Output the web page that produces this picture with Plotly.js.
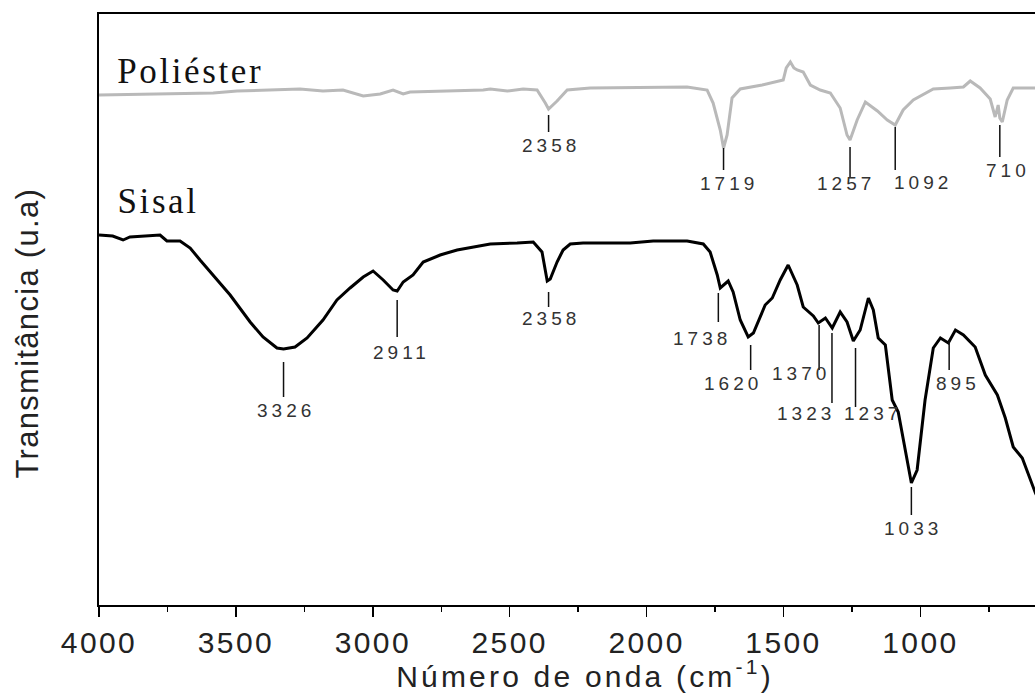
<!DOCTYPE html>
<html>
<head>
<meta charset="utf-8">
<script src="https://cdn.plot.ly/plotly-3.0.1.min.js"></script>
<style>
html, body { margin: 0; padding: 0; overflow: hidden; background: #fff; }
#chart { width: 1071px; height: 693px; }
.xtick text { letter-spacing: 2.4px; }
.g-xtitle text { letter-spacing: 3.2px; }
.annotation text { letter-spacing: 4px; }
.annotation[data-index="0"] text, .annotation[data-index="1"] text { letter-spacing: 2.6px; }
.annotation[data-index="2"] text { letter-spacing: 1.3px; }
</style>
</head>
<body>
<div id="chart"></div>
<script>
// ---- Data (transmittance in arbitrary units) ----
const wnSisal = [4000,3950,3912,3887,3777,3752,3704,3667,3631,3569,3521,3448,3401,3350,3326,3284,3240,3182,3131,3083,3035,2999,2962,2926,2911,2889,2853,2816,2754,2692,2634,2571,2473,2414,2382,2363,2352,2327,2305,2279,2232,2060,1976,1852,1793,1768,1742,1731,1702,1684,1658,1629,1610,1567,1541,1512,1483,1450,1428,1391,1373,1347,1322,1293,1268,1245,1220,1190,1172,1154,1128,1103,1081,1055,1033,1012,983,953,927,898,872,843,800,763,719,690,661,628,580,540];
const tSisal  = [370,369,365,368,370,364,364,357,345,325,310,283,268,257,256,258,267,285,305,317,328,334,325,315,314,323,330,343,350,355,358,361,362,363,353,324,326,343,355,361,362,362,364,364,361,353,330,317,324,313,285,268,272,300,307,325,340,320,298,289,282,287,277,293,283,264,275,307,295,267,260,205,193,155,122,135,205,257,267,262,275,270,258,230,210,187,158,147,112,90];

const wnPol = [4000,3583,3496,3266,3182,3109,3035,2973,2926,2889,2864,2597,2571,2509,2451,2400,2370,2358,2327,2290,2206,1852,1779,1757,1731,1719,1706,1688,1658,1578,1501,1490,1475,1462,1450,1428,1402,1366,1329,1293,1268,1257,1231,1201,1157,1121,1092,1063,1026,1000,953,891,843,818,782,745,727,716,710,701,683,661,610,540];
const tPol  = [510,512,514,516,514,515,509,511,515,511,513,515,516,514,516,515,502,496,504,515,517,518,515,502,475,457,470,507,516,520,525,537,543,537,535,533,520,515,512,497,470,465,485,503,494,485,480,495,505,509,516,517,518,524,517,506,488,500,487,483,505,517,517,517];

const peaksSisal = [3326,2911,2358,1738,1620,1370,1323,1237,1033,895];
const peaksPol   = [2358,1719,1257,1092,710];

const xTickVals = [4000,3500,3000,2500,2000,1500,1000];
const xTickText = ['4000','3500','3000','2500','2000','1500','1000'];

const seriesNames = ['Poliéster','Sisal'];

// ---- Label layout (line top, line bottom, label centre, horizontal shift px) ----
const sisalMarkLayout = [
  [243,208,195,0],[305,268,253,2],[313,298,287,0],[312,283,267,-18],[260,235,222,-20],
  [280,235,232,-20],[272,202,192,-28],[257,198,192,15],[118,90,77,0],[265,235,222,7]
];
const polMarkLayout = [
  [490,473,460,0],[457,435,422,3],[458,428,422,-6],[478,435,423,26],[480,448,435,6]
];

const traces = [
  {x: wnPol, y: tPol, type: 'scatter', mode: 'lines', name: seriesNames[0],
   line: {color: '#b9b9b9', width: 3}, hoverinfo: 'skip'},
  {x: wnSisal, y: tSisal, type: 'scatter', mode: 'lines', name: seriesNames[1],
   line: {color: '#000000', width: 3}, hoverinfo: 'skip'}
];

const shapes = [];
const annotations = [
  {xref: 'x', yref: 'y', x: 4000, y: 534, xshift: 28, xanchor: 'left', yanchor: 'middle',
   text: seriesNames[0], showarrow: false,
   font: {family: 'Liberation Serif, Times New Roman, serif', size: 35, color: '#111'}},
  {xref: 'x', yref: 'y', x: 4000, y: 404, xshift: 23, xanchor: 'left', yanchor: 'middle',
   text: seriesNames[1], showarrow: false,
   font: {family: 'Liberation Serif, Times New Roman, serif', size: 35, color: '#111'}},
  {xref: 'paper', yref: 'paper', x: 0, y: 0.46, xshift: -72, xanchor: 'center', yanchor: 'middle',
   text: 'Transmitância (u.a)', textangle: -90, showarrow: false,
   font: {family: 'Liberation Sans, Arial, sans-serif', size: 31, color: '#222'}}
];

function addMarks(peaks, lay) {
  peaks.forEach((wn, i) => {
    const [top, bot, lab, dx] = lay[i];
    shapes.push({type: 'line', xref: 'x', yref: 'y', x0: wn, x1: wn, y0: top, y1: bot,
      line: {color: '#111', width: 1.5}});
    annotations.push({xref: 'x', yref: 'y', x: wn, y: lab, xshift: dx + 2, xanchor: 'center',
      yanchor: 'middle', text: String(wn), showarrow: false,
      font: {family: 'Liberation Sans, Arial, sans-serif', size: 19, color: '#333'}});
  });
}
addMarks(peaksSisal, sisalMarkLayout);
addMarks(peaksPol, polMarkLayout);

const layout = {
  width: 1071, height: 693,
  margin: {l: 99, r: 0, t: 14, b: 88, pad: 0},
  paper_bgcolor: '#fff', plot_bgcolor: '#fff',
  showlegend: false,
  xaxis: {
    range: [4000, 450], showgrid: false, zeroline: false,
    showline: true, linecolor: '#000', linewidth: 2, mirror: true,
    tickmode: 'array', tickvals: xTickVals, ticktext: xTickText,
    ticks: 'outside', ticklen: 10, tickwidth: 1.5, tickcolor: '#000',
    tickfont: {family: 'Liberation Sans, Arial, sans-serif', size: 30, color: '#222'},
    minor: {tickmode: 'linear', tick0: 0, dtick: 250, ticks: 'outside', ticklen: 5,
            tickwidth: 1.5, tickcolor: '#000', showgrid: false},
    title: {text: 'Número de onda (cm<sup>-1</sup>)', standoff: 16,
            font: {family: 'Liberation Sans, Arial, sans-serif', size: 30, color: '#222'}}
  },
  yaxis: {
    range: [0, 591], showgrid: false, zeroline: false, showticklabels: false, ticks: '',
    showline: true, linecolor: '#000', linewidth: 2, mirror: true
  },
  shapes: shapes,
  annotations: annotations
};

Plotly.newPlot('chart', traces, layout, {staticPlot: true, displayModeBar: false});
</script>
</body>
</html>
